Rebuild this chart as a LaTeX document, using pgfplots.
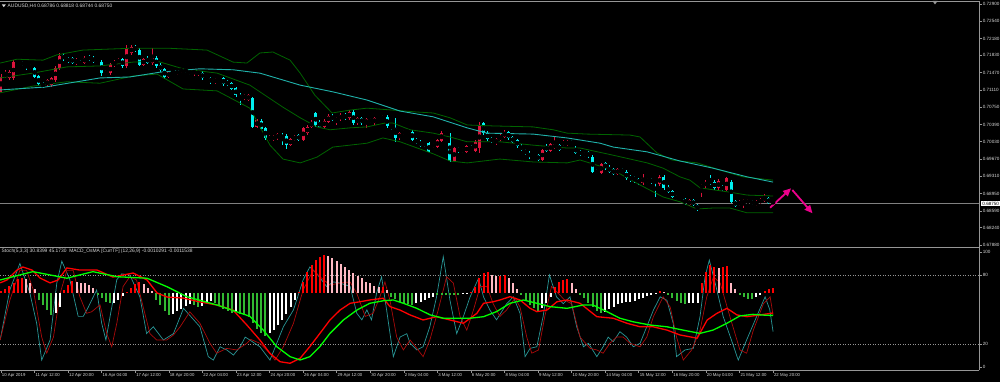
\documentclass[border=0pt]{standalone}
\usepackage{pgfplots}
\pgfplotsset{compat=1.18}
\usepackage{pgfplotstable}
\usepackage{fontspec}
\setmainfont{Liberation Sans}
\usetikzlibrary{arrows.meta}
\definecolor{upc}{RGB}{220,20,60}
\definecolor{dnc}{RGB}{0,240,240}
\definecolor{bbg}{RGB}{0,100,0}
\definecolor{mal}{RGB}{32,178,170}
\definecolor{stm}{RGB}{40,150,150}
\definecolor{sts}{RGB}{170,10,10}
\definecolor{hr}{RGB}{255,0,0}
\definecolor{hp}{RGB}{255,185,195}
\definecolor{hg}{RGB}{50,185,50}
\definecolor{frm}{RGB}{150,150,150}
\definecolor{txt}{RGB}{215,215,215}
\newcommand{\pf}{\fontsize{4.6}{5.5}\selectfont}
\newcommand{\df}{\fontsize{4.3}{5}\selectfont}
\newcommand{\tf}{\fontsize{4.9}{6}\selectfont}

\pgfplotstableread{
i top bot hi lo
0 0.7138 0.7107 0.7144 0.7105
1 0.7146 0.7138 0.7153 0.7136
2 0.7148 0.7136 0.7153 0.7132
3 0.7169 0.7136 0.7173 0.7132
11 0.7132 0.7121 0.7134 0.7117
12 0.7136 0.7121 0.7138 0.7117
13 0.7157 0.7132 0.7161 0.7128
14 0.7182 0.7157 0.7188 0.7153
18 0.7173 0.7167 0.7178 0.7163
20 0.7178 0.7167 0.7182 0.7165
25 0.7148 0.7146 0.7153 0.7142
26 0.7163 0.7146 0.7167 0.7142
27 0.7169 0.7163 0.7173 0.7159
28 0.7175 0.7167 0.7178 0.7165
30 0.7198 0.7161 0.7205 0.7157
31 0.7200 0.7188 0.7205 0.7184
34 0.7175 0.7163 0.7178 0.7161
36 0.7178 0.7167 0.7198 0.7163
40 0.7148 0.7138 0.7150 0.7136
42 0.7150 0.7146 0.7153 0.7142
43 0.7155 0.7148 0.7157 0.7146
46 0.7153 0.7144 0.7155 0.7140
47 0.7150 0.7144 0.7153 0.7140
51 0.7134 0.7128 0.7136 0.7123
58 0.7100 0.7094 0.7103 0.7090
59 0.7100 0.7090 0.7103 0.7088
61 0.7048 0.7034 0.7050 0.7032
64 0.7013 0.7007 0.7017 0.7005
65 0.7015 0.7007 0.7017 0.7005
66 0.7019 0.7011 0.7021 0.7007
69 0.7009 0.6996 0.7011 0.6994
70 0.7013 0.7007 0.7017 0.7005
72 0.7032 0.7007 0.7034 0.7005
73 0.7034 0.7021 0.7038 0.7017
74 0.7044 0.7034 0.7048 0.7032
77 0.7046 0.7034 0.7050 0.7032
78 0.7057 0.7044 0.7061 0.7042
80 0.7053 0.7046 0.7055 0.7038
81 0.7059 0.7050 0.7063 0.7046
83 0.7065 0.7053 0.7069 0.7048
85 0.7053 0.7042 0.7055 0.7038
87 0.7050 0.7042 0.7053 0.7032
89 0.7053 0.7042 0.7055 0.7038
91 0.7057 0.7050 0.7059 0.7048
95 0.7021 0.7011 0.7023 0.7007
96 0.7023 0.7021 0.7028 0.7017
97 0.7025 0.7023 0.7028 0.7019
103 0.6998 0.6994 0.7000 0.6990
104 0.7007 0.6992 0.7009 0.6990
105 0.7021 0.7005 0.7025 0.7003
106 0.7023 0.7021 0.7025 0.7017
108 0.6990 0.6963 0.6992 0.6961
111 0.6994 0.6982 0.6996 0.6980
113 0.7003 0.6984 0.7007 0.6982
114 0.7038 0.6990 0.7044 0.6980
118 0.7009 0.7000 0.7011 0.6996
119 0.7015 0.7007 0.7019 0.7005
120 0.7023 0.7013 0.7028 0.7011
127 0.6975 0.6971 0.6978 0.6969
129 0.6986 0.6965 0.6988 0.6963
131 0.6998 0.6984 0.7000 0.6982
132 0.6998 0.6990 0.7015 0.6988
134 0.7003 0.6996 0.7007 0.6994
135 0.7005 0.6996 0.7007 0.6994
143 0.6957 0.6938 0.6959 0.6936
147 0.6946 0.6936 0.6948 0.6934
153 0.6928 0.6917 0.6936 0.6913
154 0.6925 0.6919 0.6928 0.6917
157 0.6930 0.6915 0.6934 0.6911
164 0.6882 0.6871 0.6884 0.6869
167 0.6913 0.6907 0.6915 0.6888
168 0.6919 0.6911 0.6923 0.6907
171 0.6921 0.6907 0.6925 0.6903
173 0.6928 0.6903 0.6930 0.6900
176 0.6878 0.6871 0.6882 0.6869
177 0.6882 0.6875 0.6884 0.6865
178 0.6882 0.6875 0.6884 0.6873
180 0.6878 0.6871 0.6882 0.6869
181 0.6884 0.6875 0.6886 0.6873
182 0.6888 0.6880 0.6894 0.6878
}\candleUp

\pgfplotstableread{
i top bot hi lo
4 0.7171 0.7167 0.7173 0.7165
5 0.7169 0.7163 0.7171 0.7161
6 0.7165 0.7161 0.7167 0.7153
7 0.7163 0.7157 0.7165 0.7155
8 0.7157 0.7138 0.7159 0.7136
9 0.7140 0.7123 0.7142 0.7119
10 0.7125 0.7119 0.7128 0.7115
15 0.7184 0.7175 0.7188 0.7171
16 0.7178 0.7169 0.7180 0.7167
17 0.7178 0.7167 0.7180 0.7165
19 0.7169 0.7165 0.7173 0.7163
21 0.7180 0.7175 0.7184 0.7171
22 0.7178 0.7169 0.7182 0.7167
23 0.7171 0.7167 0.7173 0.7165
24 0.7169 0.7146 0.7173 0.7140
29 0.7175 0.7161 0.7178 0.7157
32 0.7200 0.7194 0.7205 0.7190
33 0.7194 0.7163 0.7198 0.7161
35 0.7178 0.7167 0.7182 0.7165
37 0.7178 0.7161 0.7182 0.7157
38 0.7163 0.7153 0.7167 0.7148
39 0.7155 0.7138 0.7157 0.7134
41 0.7150 0.7148 0.7153 0.7144
44 0.7155 0.7148 0.7157 0.7146
45 0.7148 0.7146 0.7153 0.7142
48 0.7146 0.7136 0.7150 0.7132
49 0.7136 0.7134 0.7140 0.7132
50 0.7136 0.7128 0.7138 0.7123
52 0.7134 0.7130 0.7136 0.7128
53 0.7136 0.7123 0.7138 0.7119
54 0.7128 0.7123 0.7132 0.7119
55 0.7125 0.7113 0.7128 0.7111
56 0.7115 0.7100 0.7117 0.7096
57 0.7100 0.7094 0.7105 0.7080
60 0.7094 0.7034 0.7096 0.7032
62 0.7046 0.7030 0.7050 0.7028
63 0.7032 0.7011 0.7034 0.7007
67 0.7015 0.7013 0.7021 0.6996
68 0.7015 0.6996 0.7019 0.6988
71 0.7017 0.7007 0.7019 0.7005
75 0.7063 0.7038 0.7065 0.7034
76 0.7044 0.7034 0.7048 0.7032
79 0.7057 0.7048 0.7061 0.7046
82 0.7059 0.7053 0.7063 0.7048
84 0.7065 0.7042 0.7069 0.7038
86 0.7053 0.7042 0.7055 0.7038
88 0.7050 0.7044 0.7053 0.7042
90 0.7053 0.7048 0.7055 0.7046
92 0.7055 0.7036 0.7059 0.7032
93 0.7036 0.7032 0.7038 0.7028
94 0.7032 0.7011 0.7053 0.7003
98 0.7023 0.7007 0.7028 0.7005
99 0.7009 0.7000 0.7011 0.6998
100 0.7003 0.6994 0.7007 0.6992
101 0.7000 0.6996 0.7003 0.6992
102 0.7000 0.6982 0.7003 0.6980
107 0.7000 0.6963 0.7021 0.6961
109 0.6990 0.6984 0.6992 0.6980
110 0.6988 0.6982 0.6990 0.6980
112 0.6992 0.6988 0.6996 0.6986
115 0.7042 0.7021 0.7044 0.7017
116 0.7021 0.7009 0.7025 0.7005
117 0.7011 0.7003 0.7013 0.7000
121 0.7023 0.7011 0.7025 0.7007
122 0.7013 0.7003 0.7015 0.7000
123 0.7007 0.6994 0.7009 0.6990
124 0.6994 0.6986 0.6998 0.6984
125 0.6986 0.6980 0.6988 0.6975
126 0.6980 0.6971 0.6984 0.6967
128 0.6975 0.6965 0.6978 0.6963
130 0.6994 0.6984 0.6998 0.6982
133 0.6996 0.6986 0.6998 0.6984
136 0.7003 0.6998 0.7007 0.6996
137 0.6990 0.6980 0.6994 0.6978
138 0.6982 0.6978 0.6986 0.6973
139 0.6980 0.6973 0.6982 0.6971
140 0.6982 0.6973 0.6984 0.6969
141 0.6971 0.6940 0.6975 0.6938
142 0.6944 0.6938 0.6946 0.6936
144 0.6959 0.6948 0.6961 0.6944
145 0.6950 0.6940 0.6955 0.6938
146 0.6946 0.6936 0.6948 0.6934
148 0.6946 0.6940 0.6948 0.6938
149 0.6940 0.6928 0.6944 0.6923
150 0.6930 0.6925 0.6934 0.6919
151 0.6928 0.6925 0.6932 0.6917
152 0.6925 0.6917 0.6928 0.6913
155 0.6925 0.6919 0.6928 0.6915
156 0.6921 0.6919 0.6923 0.6888
158 0.6930 0.6907 0.6934 0.6903
159 0.6909 0.6898 0.6913 0.6896
160 0.6900 0.6888 0.6903 0.6886
161 0.6890 0.6884 0.6892 0.6882
162 0.6888 0.6884 0.6890 0.6882
163 0.6884 0.6875 0.6886 0.6871
165 0.6882 0.6871 0.6884 0.6869
166 0.6871 0.6863 0.6873 0.6858
169 0.6921 0.6917 0.6934 0.6913
170 0.6919 0.6907 0.6923 0.6903
172 0.6911 0.6903 0.6913 0.6900
174 0.6919 0.6878 0.6923 0.6875
175 0.6880 0.6869 0.6882 0.6867
179 0.6880 0.6873 0.6882 0.6871
183 0.6886 0.6875 0.6888 0.6873
184 0.68786 0.68750 0.68818 0.68744
}\candleDn

\pgfplotstableread{
i v
0 1.2
1 2.0
2 3.6
3 5.3
4 7.0
5 7.7
15 1.5
16 4.1
17 6.2
30 0.5
31 2.4
32 4.5
33 5.5
71 0.7
72 5.8
73 11.0
74 14.4
75 17.0
76 18.7
77 19.6
91 3.3
112 0.7
113 3.3
114 7.6
115 10.1
116 11.0
119 9.0
120 9.5
132 2.9
133 5.5
134 6.7
135 7.0
157 1.2
167 5.0
168 11.0
169 14.4
170 13.6
172 13.6
173 14.0
182 1.2
183 1.9
184 2.4
}\histR

\pgfplotstableread{
i v
6 7.0
7 5.0
8 1.9
18 5.8
19 5.3
20 5.0
21 4.1
22 2.4
34 4.5
35 2.4
36 0.8
78 19.1
79 17.9
80 16.5
81 14.9
82 13.6
83 11.8
84 10.5
85 8.8
86 7.6
87 5.8
88 5.0
89 3.6
90 2.9
92 1.5
117 9.5
118 8.5
121 7.6
122 5.0
123 1.9
136 5.0
137 1.9
158 0.5
171 12.7
174 5.0
175 1.9
}\histP

\pgfplotstableread{
i v
9 -3.6
10 -6.2
11 -8.8
12 -11.5
23 -1.0
24 -2.7
25 -4.5
26 -5.3
37 -3.6
38 -6.2
39 -9.5
40 -11.5
46 -6.0
47 -7.0
51 -5.0
52 -6.5
53 -8.0
54 -9.5
55 -10.5
57 -11.0
58 -11.5
59 -12.2
60 -15.6
61 -18.7
62 -20.8
63 -22.0
93 -1.9
94 -3.3
95 -4.5
96 -5.3
97 -5.8
98 -6.2
104 -1.2
105 -1.0
106 -1.0
107 -0.9
108 -1.0
109 -1.2
124 -1.0
125 -3.6
126 -6.2
127 -7.9
128 -9.1
138 -1.0
139 -2.7
140 -5.0
141 -7.4
142 -9.3
143 -10.5
159 -1.2
160 -2.7
161 -3.9
162 -5.3
163 -5.7
176 -1.0
177 -1.9
178 -2.9
179 -2.9
}\histG

\pgfplotstableread{
i v
13 -10.5
14 -7.0
27 -5.0
28 -3.5
29 -1.5
41 -11.0
42 -9.5
43 -8.0
44 -6.5
45 -5.5
48 -6.5
49 -5.0
50 -4.0
56 -10.0
64 -20.8
65 -19.1
66 -16.5
67 -13.9
68 -10.8
69 -7.0
70 -3.6
99 -5.3
100 -4.5
101 -3.6
102 -2.7
103 -1.9
110 -0.7
111 -0.3
129 -7.9
130 -5.3
131 -1.9
144 -9.6
145 -8.4
146 -7.0
147 -5.8
148 -5.0
149 -4.6
150 -4.5
151 -4.1
152 -3.3
153 -2.4
154 -1.5
155 -1.0
156 -0.5
164 -5.3
165 -5.0
166 -5.0
180 -1.9
181 -1.0
}\histW

\begin{document}
\begin{tikzpicture}[x=1pt,y=1pt]
\path[use as bounding box] (0,0) rectangle (1000,382);
\fill[black] (0,0) rectangle (1000,382);

% ---------------- main price panel ----------------
\begin{axis}[
  at={(0pt,136pt)}, anchor=south west,
  width=979pt, height=243pt, scale only axis,
  xmin=-0.238, xmax=233.08,
  ymin=0.67859, ymax=0.72921,
  axis x line*=bottom, axis y line*=right,
  axis line style={draw=none},
  xtick=\empty,
  ytick={0.729,0.7254,0.7218,0.7183,0.7147,0.7111,0.7075,0.7039,0.7003,0.6967,0.6931,0.6895,0.6859,0.6824,0.6788},
  yticklabels={0.72900,0.72540,0.72180,0.71830,0.71470,0.71110,0.70750,0.70390,0.70030,0.69670,0.69310,0.68950,0.68590,0.68240,0.67880},
  yticklabel style={font=\pf, text=txt, anchor=west, inner sep=0pt, xshift=0.6pt},
  tick style={draw=frm, line width=0.6pt},
  major tick length=3pt, tick align=outside,
]
% bid line
\addplot[gray, line width=0.8pt] coordinates {(-0.238,0.6875) (233.08,0.6875)};
% wicks
\addplot[only marks, mark=none, error bars/.cd, y dir=both, y explicit, error mark=none,
  error bar style={line width=0.9pt, upc}]
  table[x=i, y expr={(\thisrow{hi}+\thisrow{lo})/2}, y error expr={(\thisrow{hi}-\thisrow{lo})/2}] {\candleUp};
\addplot[only marks, mark=none, error bars/.cd, y dir=both, y explicit, error mark=none,
  error bar style={line width=0.9pt, dnc}]
  table[x=i, y expr={(\thisrow{hi}+\thisrow{lo})/2}, y error expr={(\thisrow{hi}-\thisrow{lo})/2}] {\candleDn};
% bodies
\addplot[only marks, mark=none, error bars/.cd, y dir=both, y explicit, error mark=none,
  error bar style={line width=3pt, upc}]
  table[x=i, y expr={(\thisrow{top}+\thisrow{bot})/2}, y error expr={(\thisrow{top}-\thisrow{bot})/2}] {\candleUp};
\addplot[only marks, mark=none, error bars/.cd, y dir=both, y explicit, error mark=none,
  error bar style={line width=3pt, dnc}]
  table[x=i, y expr={(\thisrow{top}+\thisrow{bot})/2}, y error expr={(\thisrow{top}-\thisrow{bot})/2}] {\candleDn};
% Bollinger bands
\addplot[bbg, line width=0.8pt] coordinates {(-0.2,0.7167) (3.8,0.7175) (10.0,0.7173) (13.3,0.7184) (19.5,0.7194) (31.5,0.7198) (39.6,0.7198) (49.1,0.7194) (55.3,0.7169) (58.6,0.7167) (61.7,0.7188) (64.8,0.7190) (68.9,0.7173) (71.3,0.7146) (74.8,0.7100) (78.9,0.7063) (83.2,0.7069) (87.2,0.7073) (93.4,0.7069) (99.1,0.7065) (103.0,0.7063) (107.0,0.7053) (111.1,0.7038) (117.3,0.7036) (126.8,0.7034) (131.6,0.7028) (134.9,0.7021) (139.7,0.7019) (149.9,0.7017) (152.3,0.7013) (156.3,0.6980) (159.9,0.6965) (161.8,0.6963) (165.9,0.6959) (171.4,0.6944) (176.8,0.6930) (184,0.6923)};
\addplot[bbg, line width=0.8pt] coordinates {(-0.2,0.7136) (7.6,0.7146) (15.7,0.7159) (23.6,0.7161) (31.5,0.7169) (37.2,0.7171) (43.4,0.7155) (51.5,0.7146) (59.3,0.7121) (67.2,0.7075) (71.3,0.7053) (75.3,0.7034) (78.4,0.7028) (83.2,0.7032) (87.2,0.7034) (91.5,0.7042) (93.4,0.7042) (97.5,0.7028) (103.0,0.7021) (107.0,0.7013) (111.1,0.7003) (118.9,0.7003) (126.8,0.6996) (134.9,0.6990) (138.0,0.6990) (145.9,0.6975) (154.0,0.6959) (157.8,0.6948) (161.8,0.6930) (164.2,0.6923) (166.6,0.6907) (173.7,0.6898) (177.8,0.6892) (184,0.6890)};
\addplot[bbg, line width=0.8pt] coordinates {(-0.2,0.7105) (7.6,0.7119) (15.7,0.7128) (23.6,0.7125) (31.5,0.7140) (37.2,0.7144) (43.4,0.7113) (51.5,0.7109) (59.3,0.7073) (64.1,0.6996) (67.2,0.6967) (71.3,0.6959) (75.3,0.6971) (79.1,0.6992) (87.2,0.7000) (91.0,0.7011) (95.1,0.7003) (103.0,0.6978) (107.0,0.6963) (111.1,0.6959) (118.9,0.6967) (126.8,0.6961) (134.9,0.6959) (138.0,0.6965) (145.9,0.6944) (152.3,0.6913) (157.8,0.6888) (161.8,0.6878) (165.9,0.6863) (169.7,0.6865) (173.7,0.6865) (177.8,0.6855) (184,0.6855)};
% moving average
\addplot[mal, line width=0.9pt] coordinates {(-0.2,0.7111) (10.5,0.7117) (23.6,0.7136) (30.7,0.7138) (37.9,0.7148) (47.4,0.7155) (55.3,0.7153) (61.7,0.7146) (71.3,0.7121) (79.1,0.7107) (87.2,0.7090) (95.1,0.7067) (103.0,0.7055) (111.1,0.7032) (115.8,0.7021) (126.8,0.7019) (134.9,0.7011) (142.8,0.7000) (145.9,0.6992) (154.0,0.6982) (161.8,0.6963) (169.7,0.6948) (177.8,0.6930) (184,0.6919)};
% arrows
\addplot[magenta, line width=1.8pt, -{Triangle[length=8pt,width=7pt]}] coordinates {(183.3,0.68657) (188.3,0.69061)};
\addplot[magenta, line width=1.8pt, -{Triangle[length=8pt,width=7pt]}] coordinates {(188.6,0.69025) (193.4,0.68540)};
\end{axis}

% ---------------- stochastic panel ----------------
\begin{axis}[
  at={(0pt,12pt)}, anchor=south west,
  width=979pt, height=121pt, scale only axis,
  xmin=-0.238, xmax=233.08,
  ymin=-2.61, ymax=102.61,
  axis x line*=bottom, axis y line*=right,
  axis line style={draw=none},
  xtick={0,8,...,184},
  xticklabels={10 Apr 2019,11 Apr 12:00,12 Apr 20:00,16 Apr 04:00,17 Apr 12:00,18 Apr 20:00,22 Apr 04:00,23 Apr 12:00,24 Apr 20:00,26 Apr 04:00,29 Apr 12:00,30 Apr 20:00,2 May 04:00,3 May 12:00,6 May 20:00,8 May 04:00,9 May 12:00,10 May 20:00,14 May 04:00,15 May 12:00,16 May 20:00,20 May 04:00,21 May 12:00,22 May 20:00},
  xticklabel style={font=\df, text=txt, anchor=north west, inner sep=0pt, xshift=0.8pt, yshift=-0.3pt},
  ytick={0,20,80,100},
  yticklabels={0,20,80,100},
  yticklabel style={font=\pf, text=txt, anchor=west, inner sep=0pt, xshift=0.6pt},
  tick style={draw=frm, line width=0.6pt},
  major tick length=3pt, tick align=outside,
]
\addplot[frm, line width=0.6pt, dash pattern=on 1pt off 1.5pt] coordinates {(-0.238,80) (233.08,80)};
\addplot[frm, line width=0.6pt, dash pattern=on 1pt off 1.5pt] coordinates {(-0.238,20) (233.08,20)};
\addplot[stm, line width=0.7pt] coordinates {(-0.2,23.5) (2.1,67) (4.5,90) (6.9,64) (8.5,38) (9.7,6) (11.7,23.5) (13.3,73) (14.5,92) (16.4,76) (18.4,44) (19.6,44) (20.8,52) (22.8,67) (24.0,38) (25.0,23.5) (26.0,44) (27.6,76) (28.8,81) (30.7,80) (33.1,61) (34.7,29) (36.3,35) (38.7,23.5) (41.1,29) (43.5,51) (47.4,35) (49.4,9) (50.6,6) (52.2,17.6) (53.8,14.8) (55.4,10.4) (57.0,17.6) (58.2,26) (59.3,23.5) (61.7,17.6) (64.1,6) (67.3,35) (69.7,49.6) (72.0,75.7) (73.6,87) (75.2,81.5) (77.6,70) (79.2,74) (80.8,73) (83.2,70) (84.8,46.7) (86.0,41) (87.2,49.6) (88.3,41) (89.5,64) (90.7,78.5) (91.9,49.6) (93.5,9) (95.1,26) (96.7,29) (97.5,20.6) (99.1,14.8) (100.6,17.6) (102.2,35) (103.8,61) (105.4,96) (107.0,58) (108.6,29) (110.2,44) (111.8,61) (113.8,77) (115.0,61) (116.5,49.6) (118.1,41) (120.5,55) (122.1,61) (123.7,46.7) (124.9,9) (126.1,16.2) (127.7,17.6) (129.2,44) (130.7,80) (132.4,61) (134.0,55) (135.6,61) (137.2,35) (138.8,17.6) (140.0,20.6) (142.0,9) (143.5,17.6) (144.7,26) (145.9,22) (147.5,30.7) (149.1,26) (150.7,17.6) (152.3,20.6) (153.9,35) (155.5,49.6) (157.1,61) (158.7,58) (160.2,38) (161.0,9) (163.0,14.8) (165.0,16.2) (166.6,44) (167.8,78.5) (168.8,93) (170.2,73) (172.1,44) (174.5,19) (175.7,6) (177.7,23.5) (180.1,44) (182.1,61) (183.2,50) (184,30.84)};
\addplot[sts, line width=0.7pt] coordinates {(-0.2,23.5) (2.1,58) (4.5,84) (6.1,84) (7.7,67) (9.7,26) (10.9,12) (12.5,26) (14.1,64) (15.7,84) (17.2,84) (18.8,61) (20.4,46.7) (21.6,48) (23.6,54) (25.2,29) (26.4,17.6) (27.6,38) (29.1,70) (30.7,78.5) (32.3,75.7) (33.9,52) (35.5,29) (37.1,23.5) (39.5,23.5) (41.1,27.8) (42.7,35) (45.0,48) (47.4,38) (49.8,20.6) (51.4,12) (53.8,16.2) (56.2,14.8) (58.6,20.6) (59.5,24) (61.7,20.6) (64.1,12) (65.3,6) (67.3,17.6) (69.7,38) (72.0,67) (74.4,84) (76.0,78.5) (78.4,71.3) (80.8,73) (83.2,74) (84.8,64) (86.8,44) (88.7,46.7) (90.3,61) (91.5,74) (92.7,58) (94.3,26) (95.9,14.8) (97.5,23.5) (99.1,16.2) (100.6,9) (102.2,23.5) (104.2,49.6) (106.2,78.5) (107.8,73) (109.4,44) (111.0,32) (112.6,49.6) (114.2,70) (115.8,70) (117.3,55) (118.9,44) (120.5,49.6) (122.5,60) (123.7,52) (125.3,26) (126.5,12) (128.1,14.8) (129.6,44) (131.2,70) (132.8,64) (134.4,58) (136.0,55) (138.0,26) (140.4,16.2) (142.0,14.8) (143.5,12) (145.1,20.6) (146.7,26) (148.3,26) (149.9,20.6) (152.3,17.6) (153.9,26) (155.5,44) (157.8,61) (159.5,52) (161.0,26) (162.6,6) (164.6,14.8) (166.6,32) (168.2,61) (169.8,78.5) (171.4,73) (173.7,44) (176.1,14.8) (177.7,12) (179.3,32) (181.7,55) (183.3,61) (184,45.17)};
\end{axis}

% ---------------- MACD OsMA overlay ----------------
\begin{axis}[
  at={(0pt,12pt)}, anchor=south west,
  width=979pt, height=121pt, scale only axis,
  xmin=-0.238, xmax=233.08,
  ymin=-39.66, ymax=22.66,
  hide axis,
]
\addplot[ycomb, hr, line width=2pt, mark=none] table[x=i,y=v] {\histR};
\addplot[ycomb, hp, line width=2pt, mark=none] table[x=i,y=v] {\histP};
\addplot[ycomb, hg, line width=2pt, mark=none] table[x=i,y=v] {\histG};
\addplot[ycomb, white, line width=2pt, mark=none] table[x=i,y=v] {\histW};
\addplot[hr, line width=1.3pt] coordinates {(-0.2,5.2) (1.4,6.7) (3.8,11.8) (5.2,13.4) (7.4,11.8) (9.3,7.7) (11.7,5.2) (13.6,6.7) (15.7,12.9) (18.8,11.8) (22.9,11.8) (26.7,8.2) (31.5,10.3) (34.8,6.7) (37.2,0) (39.6,-2.1) (43.4,-2.6) (47.4,-4.6) (51.5,-6.2) (55.3,-8.8) (58.6,-16.5) (61.7,-24.2) (64.1,-31.1) (66.5,-35.4) (68.9,-36.2) (71.3,-33.6) (73.6,-27.6) (76.0,-20.8) (78.4,-13.9) (80.8,-8.8) (83.2,-5.3) (85.6,-4.5) (87.9,-3.6) (91.1,-2.7) (92.7,-7.0) (95.1,-8.8) (97.5,-11.3) (100.6,-13.9) (103.8,-12.2) (107.0,-13.9) (110.2,-15.6) (113.4,-10.5) (115.0,-5.3) (117.3,-4.5) (118.9,-3.6) (121.3,-1.9) (123.7,-3.6) (126.1,-7.9) (127.7,-9.6) (130.1,-8.8) (132.5,-4.5) (134.9,-3.6) (138.0,-5.3) (142.0,-12.2) (145.9,-13.0) (149.2,-15.6) (152.3,-17.4) (155.4,-17.4) (158.7,-19.1) (161.8,-21.6) (165.9,-23.3) (168.3,-13.9) (170.6,-10.5) (173.0,-7.9) (175.4,-11.3) (177.8,-12.2) (180.9,-11.3) (184,-10.29)};
\addplot[green, line width=1.3pt] coordinates {(-0.2,6.7) (7.6,11.0) (11.7,9.3) (15.7,7.6) (21.9,11.0) (27.6,8.4) (34.8,7.6) (39.6,3.2) (44.3,-1.9) (51.5,-6.2) (59.3,-12.0) (62.5,-19.1) (65.7,-27.6) (68.9,-32.8) (71.3,-34.5) (73.6,-32.8) (76.0,-27.6) (78.4,-20.8) (81.6,-13.9) (84.8,-8.8) (87.9,-5.3) (91.1,-4.0) (93.5,-3.6) (95.9,-5.3) (99.1,-7.9) (102.3,-11.3) (105.4,-13.0) (108.6,-13.0) (111.8,-13.0) (115.0,-12.2) (118.1,-9.6) (121.3,-5.3) (124.5,-3.6) (127.7,-5.3) (130.8,-7.0) (134.9,-7.9) (138.7,-6.2) (141.1,-6.2) (144.4,-9.6) (147.5,-13.0) (150.6,-14.8) (154.7,-16.5) (158.7,-17.4) (162.5,-19.1) (166.6,-20.8) (169.7,-19.1) (173.0,-15.6) (176.1,-11.8) (179.2,-11.0) (182.5,-11.5) (184,-11.54)};
\end{axis}

% ---------------- frame and texts ----------------
\draw[frm, line width=1pt] (0,380.5) -- (979,380.5);
\draw[frm, line width=0.8pt] (979,11.6) -- (979,381);
\draw[frm, line width=1.6pt] (0,134.5) -- (979.4,134.5);
\draw[frm, line width=0.8pt] (0,12) -- (979.4,12);
\fill[frm] (932.5,381) -- (937.5,381) -- (935,377.5) -- cycle;
\fill[txt] (1.8,377.6) -- (5.8,377.6) -- (3.8,374.8) -- cycle;
\node[anchor=west, inner sep=0pt, text=txt, font=\tf] at (7.5,376.3) {AUDUSD,H4 0.68786 0.68818 0.68744 0.68750};
\node[anchor=west, inner sep=0pt, text=txt, font=\tf] at (1.5,130.5) {Stoch(5,3,3) 30.8399 45.1730\ \ MACD\_OsMA [CurrTF] (12,26,9) -0.0010291 -0.0011538};
\node[anchor=west, fill=white, text=black, inner xsep=1.6pt, inner ysep=0.8pt, font=\pf] at (980.6,178.5) {0.68750};
\end{tikzpicture}
\end{document}
